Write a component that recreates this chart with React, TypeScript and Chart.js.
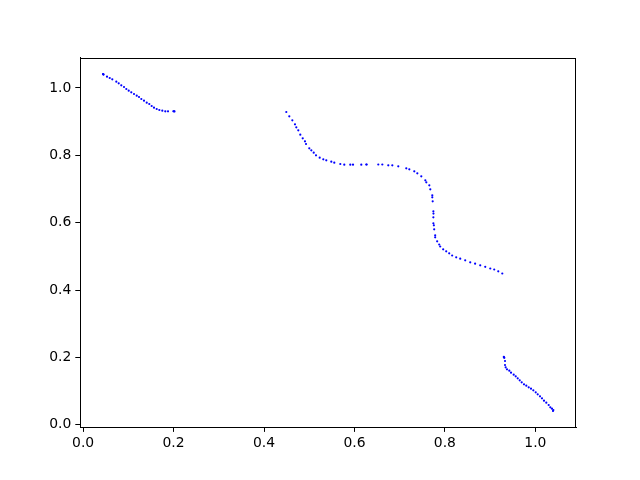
import React, { useEffect, useRef } from "react";
import { Chart, registerables } from "chart.js";

Chart.register(...registerables);

// Upper-left arc
const seg1X = [0.0440, 0.0446, 0.0452, 0.0528, 0.0588, 0.0645, 0.0734, 0.0787, 0.0844, 0.0904, 0.0955, 0.1008, 0.1065, 0.1125, 0.1185, 0.1236, 0.1287, 0.1346, 0.1406, 0.1463, 0.1516, 0.1567, 0.1627, 0.1685, 0.1751, 0.1817, 0.1877, 0.1995, 0.2010, 0.2020];
const seg1Y = [1.0410, 1.0403, 1.0395, 1.0332, 1.0293, 1.0255, 1.0184, 1.0136, 1.0077, 1.0026, 0.9967, 0.9917, 0.9869, 0.9819, 0.9768, 0.9730, 0.9670, 0.9620, 0.9561, 0.9522, 0.9463, 0.9412, 0.9374, 0.9344, 0.9323, 0.9305, 0.9305, 0.9307, 0.9305, 0.9303];

// Middle S-curve
const seg2X = [0.4493, 0.4559, 0.4626, 0.4685, 0.4714, 0.4758, 0.4802, 0.4856, 0.4906, 0.4929, 0.5001, 0.5046, 0.5099, 0.5150, 0.5231, 0.5311, 0.5377, 0.5488, 0.5554, 0.5687, 0.5775, 0.5908, 0.5968, 0.6151, 0.6262, 0.6270, 0.6527, 0.6616, 0.6748, 0.6837, 0.6969, 0.7146, 0.7213, 0.7323, 0.7390, 0.7478, 0.7567, 0.7589, 0.7655, 0.7677, 0.7721, 0.7721, 0.7730, 0.7745, 0.7747, 0.7745, 0.7745, 0.7756, 0.7763, 0.7785, 0.7785, 0.7829, 0.7874, 0.7896, 0.7962, 0.8029, 0.8095, 0.8161, 0.8250, 0.8339, 0.8449, 0.8560, 0.8668, 0.8781, 0.8892, 0.9003, 0.9091, 0.9180, 0.9269];
const seg2Y = [0.9284, 0.9157, 0.9038, 0.8920, 0.8831, 0.8742, 0.8611, 0.8504, 0.8415, 0.8335, 0.8207, 0.8148, 0.8077, 0.8000, 0.7928, 0.7881, 0.7851, 0.7810, 0.7780, 0.7742, 0.7721, 0.7721, 0.7721, 0.7721, 0.7727, 0.7727, 0.7727, 0.7727, 0.7703, 0.7703, 0.7673, 0.7614, 0.7584, 0.7525, 0.7466, 0.7377, 0.7258, 0.7198, 0.7109, 0.6991, 0.6813, 0.6753, 0.6635, 0.6338, 0.6270, 0.6160, 0.5982, 0.5922, 0.5804, 0.5626, 0.5566, 0.5448, 0.5353, 0.5293, 0.5210, 0.5151, 0.5092, 0.5026, 0.4973, 0.4931, 0.4884, 0.4824, 0.4783, 0.4735, 0.4691, 0.4640, 0.4611, 0.4557, 0.4492];

// Lower-right arc
const seg3X = [0.9303, 0.9305, 0.9314, 0.9329, 0.9329, 0.9344, 0.9373, 0.9424, 0.9462, 0.9521, 0.9566, 0.9610, 0.9654, 0.9698, 0.9749, 0.9800, 0.9853, 0.9904, 0.9955, 1.0008, 1.0052, 1.0103, 1.0147, 1.0191, 1.0242, 1.0295, 1.0331, 1.0368, 1.0390, 1.0398];
const seg3Y = [0.2020, 0.2005, 0.1990, 0.1895, 0.1777, 0.1709, 0.1649, 0.1608, 0.1548, 0.1489, 0.1441, 0.1382, 0.1323, 0.1263, 0.1204, 0.1163, 0.1115, 0.1073, 0.1026, 0.0967, 0.0907, 0.0848, 0.0789, 0.0717, 0.0658, 0.0590, 0.0522, 0.0480, 0.0412, 0.0440];

const xTicks = [0.0, 0.2, 0.4, 0.6, 0.8, 1.0];
const yTicks = [0.0, 0.2, 0.4, 0.6, 0.8, 1.0];
const xMin = -0.0069, xMax = 1.0899;
const yMin = -0.0069, yMax = 1.0899;

const toPoints = (xs: number[], ys: number[]) => xs.map((x, i) => ({ x, y: ys[i] }));

const frame = {
  id: "frame",
  afterDraw(chart: any) {
    const { ctx, chartArea: a } = chart;
    ctx.save();
    ctx.strokeStyle = "#000";
    ctx.lineWidth = 1;
    ctx.strokeRect(Math.round(a.left) + 0.5, Math.round(a.top) + 0.5, Math.round(a.right - a.left) - 1, Math.round(a.bottom - a.top) - 1);
    ctx.restore();
  },
};

export default function App() {
  const ref = useRef<HTMLCanvasElement | null>(null);
  useEffect(() => {
    if (!ref.current) return;
    const font = { family: "'DejaVu Sans', sans-serif", size: 13.9 };
    const data = [
      ...toPoints(seg1X, seg1Y),
      ...toPoints(seg2X, seg2Y),
      ...toPoints(seg3X, seg3Y),
    ];
    const chart = new Chart(ref.current, {
      type: "scatter",
      data: {
        datasets: [
          {
            data,
            backgroundColor: "#0000ff",
            borderWidth: 0,
            pointRadius: 1.1,
            pointHoverRadius: 1.1,
          },
        ],
      },
      plugins: [frame],
      options: {
        animation: false,
        responsive: false,
        maintainAspectRatio: false,
        events: [],
        layout: { padding: { left: 0, right: 64, top: 57.6, bottom: 0 } },
        plugins: { legend: { display: false }, tooltip: { enabled: false } },
        scales: {
          x: {
            type: "linear",
            min: xMin,
            max: xMax,
            afterBuildTicks: (s: any) => { s.ticks = xTicks.map((v) => ({ value: v })); },
            afterFit: (s: any) => { s.height = 52.8; },
            grid: { drawOnChartArea: false, drawTicks: true, tickLength: 4.7, tickColor: "#000", tickWidth: 1 },
            border: { display: true, color: "#000", width: 1 },
            ticks: { color: "#000", font, padding: 3, maxRotation: 0, callback: (v: any) => Number(v).toFixed(1) },
          },
          y: {
            type: "linear",
            min: yMin,
            max: yMax,
            afterBuildTicks: (s: any) => { s.ticks = yTicks.map((v) => ({ value: v })); },
            afterFit: (s: any) => { s.width = 80; },
            grid: { drawOnChartArea: false, drawTicks: true, tickLength: 4.7, tickColor: "#000", tickWidth: 1 },
            border: { display: true, color: "#000", width: 1 },
            ticks: { color: "#000", font, padding: 4, callback: (v: any) => Number(v).toFixed(1) },
          },
        },
      },
    });
    return () => chart.destroy();
  }, []);
  return (
    <div style={{ position: "fixed", left: 0, top: 0, width: 640, height: 480, background: "#fff" }}>
      <canvas ref={ref} width={640} height={480} style={{ width: 640, height: 480, display: "block" }} />
    </div>
  );
}
